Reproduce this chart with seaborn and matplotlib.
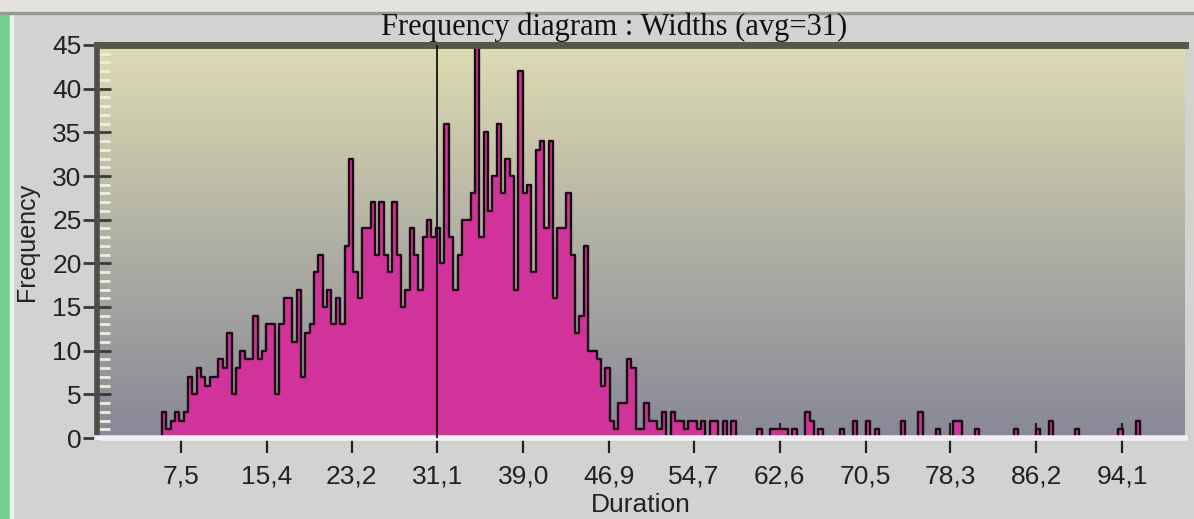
import numpy as np
import pandas as pd
import matplotlib
matplotlib.use('Agg')
import matplotlib.pyplot as plt
import seaborn as sns
from matplotlib.patches import Rectangle

# histogram counts, one per bin (bins of 0.4 starting at 5.75)
bin_start = 5.75
bin_width = 0.4
counts = [
    3, 1, 2, 3, 2, 3, 7, 5, 8, 7,
    6, 7, 7, 9, 8, 12, 5, 8, 10, 9,
    9, 14, 9, 10, 13, 13, 5, 13, 16, 16,
    11, 17, 7, 12, 13, 19, 21, 15, 17, 13,
    16, 13, 22, 32, 19, 16, 24, 24, 27, 21,
    27, 21, 19, 27, 21, 15, 17, 24, 21, 17,
    23, 25, 23, 24, 20, 36, 23, 17, 21, 25,
    25, 28, 45, 23, 35, 26, 30, 36, 28, 32,
    30, 17, 42, 28, 29, 19, 33, 34, 24, 34,
    16, 24, 24, 28, 21, 12, 14, 22, 10, 10,
    9, 6, 8, 2, 1, 4, 4, 9, 8, 1,
    1, 4, 2, 2, 1, 3, 0, 3, 2, 2,
    1, 2, 2, 1, 2, 0, 2, 2, 0, 2,
    0, 2, 0, 0, 0, 0, 0, 1, 0, 0,
    1, 1, 1, 1, 0, 1, 0, 0, 3, 2,
    0, 1, 0, 0, 0, 0, 1, 0, 0, 2,
    0, 0, 2, 0, 1, 0, 0, 0, 0, 0,
    2, 0, 0, 0, 3, 0, 0, 0, 1, 0,
    0, 0, 2, 2, 0, 0, 0, 1, 0, 0,
    0, 0, 0, 0, 0, 0, 1, 0, 0, 0,
    0, 1, 0, 0, 2, 0, 0, 0, 0, 0,
    1, 0, 0, 0, 0, 0, 0, 0, 0, 0,
    1, 0, 0, 0, 2,
]
avg_value = 31.1
x_ticks = [7.5, 15.4, 23.2, 31.1, 39.0, 46.9, 54.7, 62.6, 70.5, 78.3, 86.2, 94.1]
x_tick_labels = ['7,5', '15,4', '23,2', '31,1', '39,0', '46,9', '54,7',
                 '62,6', '70,5', '78,3', '86,2', '94,1']
y_ticks = [0, 5, 10, 15, 20, 25, 30, 35, 40, 45]

n_bins = len(counts)
df = pd.DataFrame({'Duration': bin_start + bin_width * (np.arange(n_bins) + 0.5),
                   'Count': counts})

fig = plt.figure(figsize=(11.94, 5.19), dpi=100, facecolor='#d2d2d0')
ax = fig.add_axes([97 / 1194, 1 - 438 / 519, (1185 - 97) / 1194, (438 - 45) / 519])

# green strip on the far left and top window border
fig.patches.append(Rectangle((0, 0), 10 / 1194, 1, transform=fig.transFigure,
                             color='#74d08e', zorder=0))
fig.patches.append(Rectangle((10 / 1194, 0), 3 / 1194, 1, transform=fig.transFigure,
                             color='#eeeeea', zorder=0))
fig.patches.append(Rectangle((0, 1 - 12 / 519), 1, 12 / 519, transform=fig.transFigure,
                             color='#e2e2de', zorder=0))
fig.patches.append(Rectangle((0, 1 - 14 / 519), 1, 2 / 519, transform=fig.transFigure,
                             color='#9a9a94', zorder=0))

# gradient background of the plot area
top = np.array([222, 220, 178]) / 255
mid = np.array([176, 176, 164]) / 255
bot = np.array([136, 136, 152]) / 255
rows = []
for g in np.linspace(0, 1, 256):
    if g < 0.5:
        rows.append(top + (mid - top) * (g / 0.5))
    else:
        rows.append(mid + (bot - mid) * ((g - 0.5) / 0.5))
img = np.array(rows)[:, None, :]
ax.imshow(img, extent=[0, 1, 0, 1], transform=ax.transAxes, aspect='auto', zorder=0)

sns.histplot(data=df, x='Duration', weights='Count', binwidth=bin_width,
             binrange=(bin_start, bin_start + bin_width * n_bins),
             element='step', fill=True, color='#d0349a', alpha=1.0,
             edgecolor='#1a0a12', linewidth=1.7, ax=ax, zorder=2)

ax.axvline(avg_value, color='#111111', linewidth=1.3, zorder=3)

ax.set_xlim(-0.23, 99.9)
ax.set_ylim(0, 45)
ax.set_xticks(x_ticks)
ax.set_xticklabels(x_tick_labels, fontsize=19, family='Liberation Sans', color='#222222')
ax.set_yticks(y_ticks)
ax.set_yticklabels([str(v) for v in y_ticks], fontsize=19, family='Liberation Sans', color='#222222')
ax.set_yticks(np.arange(0, 46, 1), minor=True)
ax.tick_params(axis='x', direction='inout', length=22, width=1.6, color='#222222', pad=8)
ax.tick_params(axis='y', which='major', direction='inout', length=20, width=2, color='#3a3a3a', pad=1)
ax.tick_params(axis='y', which='minor', direction='in', length=9, width=2, color='#eeeedd')
ax.set_xlabel('Duration', fontsize=19, family='Liberation Sans', color='#222222', va='center')
ax.xaxis.set_label_coords(0.5, (438 - 505) / 393)
ax.set_ylabel('Frequency', fontsize=18, family='Liberation Sans', color='#222222', va='center')
ax.yaxis.set_label_coords((27 - 97) / 1088, 0.5)

ax.spines['right'].set_visible(False)
ax.spines['top'].set_linewidth(5)
ax.spines['top'].set_color('#56564c')
ax.spines['left'].set_linewidth(4)
ax.spines['left'].set_color('#4c4c48')
ax.spines['bottom'].set_linewidth(4)
ax.spines['bottom'].set_color('#f4eef4')

fig.text(614 / 1194, 1 - 27 / 519, 'Frequency diagram : Widths (avg=31)', ha='center', va='center',
         fontsize=22, family='Liberation Serif', color='#111111')

fig.savefig('out.png', dpi=100, facecolor=fig.get_facecolor())
